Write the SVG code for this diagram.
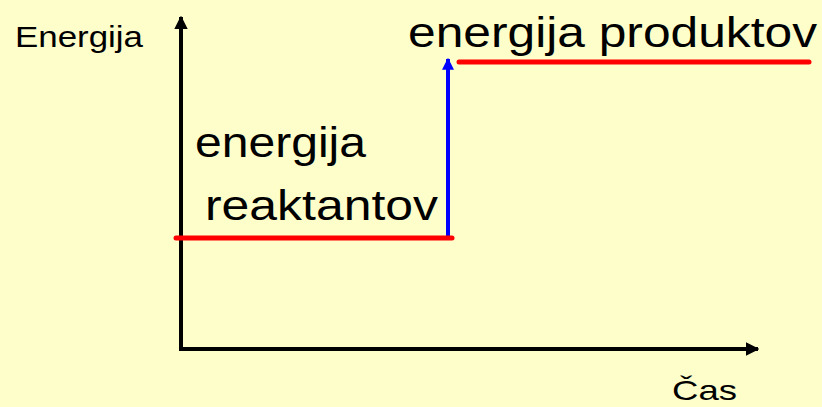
<svg xmlns="http://www.w3.org/2000/svg" width="822" height="407" viewBox="0 0 822 407">
<style>
text{font-family:"Liberation Sans",Arial,sans-serif;fill:#000}
.axis{stroke:#000;stroke-width:4;fill:none}
.lvl{stroke:#f00;stroke-width:5;stroke-linecap:round;fill:none}
.step{stroke:#00f;stroke-width:4;fill:none}
</style>
<defs>
<marker id="ab" viewBox="0 0 10 10" refX="9" refY="5" markerWidth="3.4" markerHeight="3.4" markerUnits="strokeWidth" orient="auto"><path d="M0,0 L10,5 L0,10 z" fill="#000"/></marker>
<marker id="bb" viewBox="0 0 10 10" refX="9" refY="5" markerWidth="3" markerHeight="3" markerUnits="strokeWidth" orient="auto"><path d="M0,0 L10,5 L0,10 z" fill="#00f"/></marker>
</defs>
<rect width="822" height="407" fill="#fefecb"/>
<g id="axes">
<line class="axis" x1="181" y1="351" x2="181" y2="17" marker-end="url(#ab)"/>
<line class="axis" x1="179" y1="349" x2="758" y2="349" marker-end="url(#ab)"/>
</g>
<g id="connectors">
<line class="step" x1="448" y1="237" x2="448" y2="59" marker-end="url(#bb)"/>
</g>
<g id="reaktanti">
<line class="lvl" x1="176" y1="238" x2="452" y2="238"/>
<text x="195" y="157" font-size="43" textLength="171" lengthAdjust="spacingAndGlyphs">energija</text>
<text x="205" y="220" font-size="43" textLength="233" lengthAdjust="spacingAndGlyphs">reaktantov</text>
</g>
<g id="produkti">
<line class="lvl" x1="459" y1="62" x2="809" y2="62"/>
<text x="408" y="47" font-size="42" textLength="409" lengthAdjust="spacingAndGlyphs">energija produktov</text>
</g>
<g id="labels">
<text x="15" y="47" font-size="29" textLength="128" lengthAdjust="spacingAndGlyphs">Energija</text>
<text x="672" y="400" font-size="28" textLength="65" lengthAdjust="spacingAndGlyphs">Čas</text>
</g>
</svg>
